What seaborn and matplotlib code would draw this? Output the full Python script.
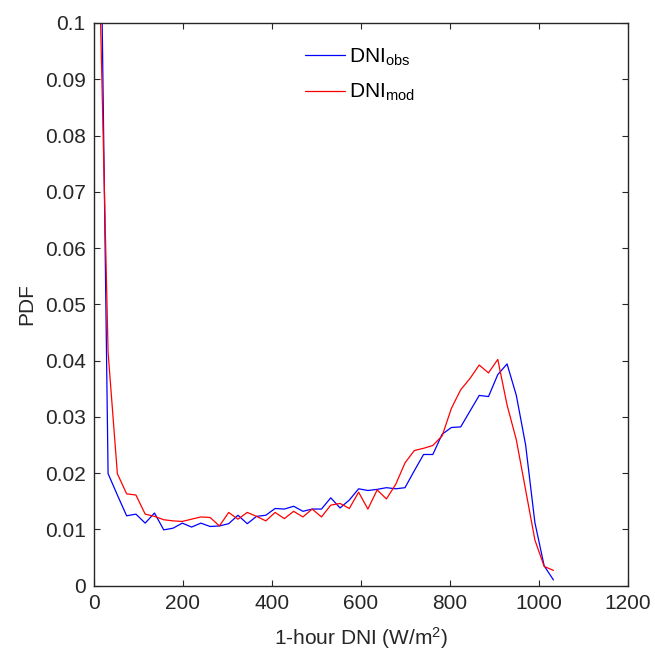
import numpy as np
import pandas as pd
import matplotlib
matplotlib.use("Agg")
import matplotlib.pyplot as plt
import seaborn as sns

# --- estilo (parecido com o MATLAB) ---
sns.set_style("ticks")
plt.rcParams['font.family'] = ['Liberation Sans', 'DejaVu Sans']
plt.rcParams['mathtext.fontset'] = 'custom'
plt.rcParams['mathtext.rm'] = 'Liberation Sans'
plt.rcParams['mathtext.it'] = 'Liberation Sans:italic'
INK = '#262626'

# --- dados: centros dos bins de DNI (W/m2) e PDFs ---
bin_width = 20.85
dni_centers = np.arange(50) * bin_width + 10.8

pdf_obs = [0.146, 0.0199, 0.0161, 0.0124, 0.0127, 0.0111, 0.0129, 0.0099, 0.0102, 0.0111,
           0.0104, 0.0111, 0.0105, 0.0106, 0.0110, 0.0125, 0.0110, 0.0123, 0.0125, 0.0137,
           0.0136, 0.0141, 0.0132, 0.0136, 0.0136, 0.0156, 0.0138, 0.0152, 0.0172, 0.0169,
           0.0171, 0.0174, 0.0172, 0.0174, 0.0204, 0.0233, 0.0233, 0.0269, 0.0281, 0.0282,
           0.0310, 0.0338, 0.0336, 0.0375, 0.0394, 0.0338, 0.0250, 0.0112, 0.0035, 0.0010]

pdf_mod = [0.114, 0.0415, 0.0199, 0.0163, 0.0161, 0.0127, 0.0123, 0.0117, 0.0115, 0.0114,
           0.0118, 0.0122, 0.0121, 0.0106, 0.0130, 0.0118, 0.0130, 0.0123, 0.0115, 0.0130,
           0.0119, 0.0132, 0.0122, 0.0136, 0.0122, 0.0143, 0.0146, 0.0137, 0.0166, 0.0136,
           0.0170, 0.0154, 0.0180, 0.0218, 0.0240, 0.0244, 0.0249, 0.0266, 0.0315, 0.0348,
           0.0368, 0.0392, 0.0378, 0.0402, 0.0321, 0.0259, 0.0170, 0.0081, 0.0034, 0.0027]

series_labels = [r'DNI$_{\mathrm{obs}}$', r'DNI$_{\mathrm{mod}}$']
series_colors = ['blue', 'red']

df = pd.concat([
    pd.DataFrame({'dni': dni_centers, 'pdf': pdf_obs, 'serie': series_labels[0]}),
    pd.DataFrame({'dni': dni_centers, 'pdf': pdf_mod, 'serie': series_labels[1]}),
], ignore_index=True)

fig = plt.figure(figsize=(6.55, 6.55), dpi=100)
ax = fig.add_axes([0.1435, 0.106, 0.8153, 0.8589])

sns.lineplot(
    data=df, x='dni', y='pdf', hue='serie',
    palette=dict(zip(series_labels, series_colors)),
    estimator=None, linewidth=0.9, ax=ax
)

ax.set_xlim(0, 1200)
ax.set_ylim(0, 0.1)
ax.set_xticks(np.arange(0, 1201, 200))
ax.set_yticks(np.arange(0, 0.1001, 0.01))
ax.set_yticklabels(['0'] + [f'{v:g}' for v in np.arange(0.01, 0.1001, 0.01).round(2)])

for s in ax.spines.values():
    s.set_visible(True)
    s.set_color(INK)
    s.set_linewidth(1.0)
ax.tick_params(direction='in', length=4.5, width=0.8, top=True, right=True,
               labelsize=15, colors=INK, pad=6)

ax.set_xlabel(r'1-hour DNI (W/m$^2$)', fontsize=15, color=INK, labelpad=9)
ax.set_ylabel('PDF', fontsize=15, color=INK, labelpad=6)

leg = ax.legend(frameon=False, loc='upper left', bbox_to_anchor=(0.36, 0.992),
                fontsize=15, handlelength=1.9, handletextpad=0.2, labelspacing=0.7)
for t in leg.get_texts():
    t.set_color('black')

fig.savefig('out.png', dpi=100)
